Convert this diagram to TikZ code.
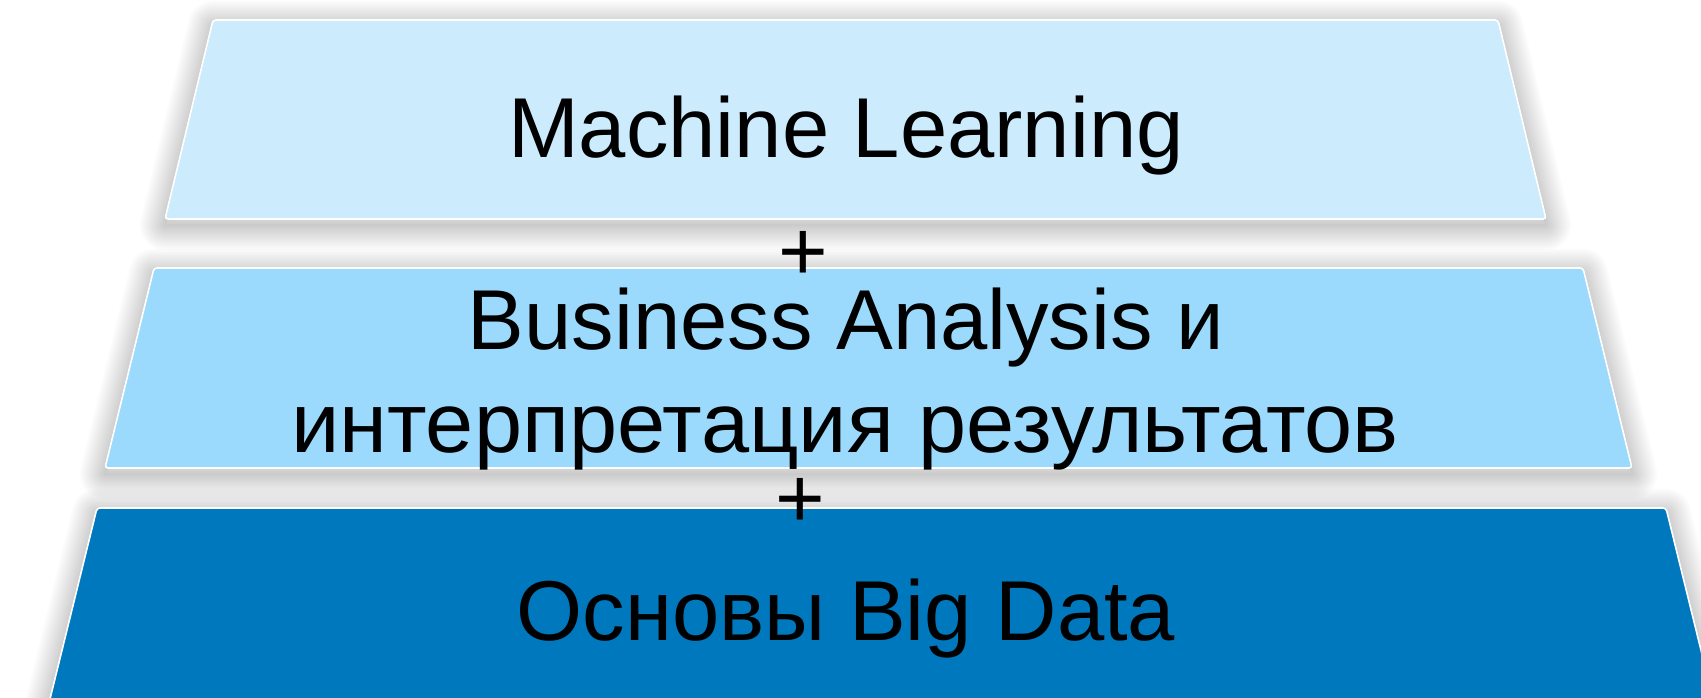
\documentclass[tikz,border=0pt]{standalone}
\usepackage{fontspec}
\setmainfont{Liberation Sans}
\definecolor{tierTop}{HTML}{CCEBFC}
\definecolor{tierMid}{HTML}{9BDAFC}
\definecolor{tierBase}{HTML}{0078BE}

% soft drop shadow: stacked, widening translucent outlines of the shape
\newcommand\tiershadow[1]{%
  \foreach \w in {2,6,...,50}{%
    \draw[black, line width=\w pt, line join=round, draw opacity=0.016]
      [yshift=-6pt] #1 -- cycle;
  }%
}

\tikzset{
  tier/.style={draw=white, line width=1.6pt, rounded corners=3pt},
  label/.style={font=\fontsize{85}{100}\selectfont, text=black,
    inner sep=0pt, anchor=base},
}

\begin{document}
\begin{tikzpicture}[x=1pt, y=-1pt]
\useasboundingbox (0,0) rectangle (1701,698);
\clip (0,0) rectangle (1701,698);
\fill[white] (0,0) rectangle (1701,698);

% shadows
\tiershadow{(213,20) -- (1498,20) -- (1546,219) -- (165,219)}
\tiershadow{(154,268) -- (1583,268) -- (1632,468) -- (105,468)}
\tiershadow{(97,508) -- (1666,508) -- (1728,760) -- (35,760)}

% pyramid tiers
\path[tier, fill=tierTop]  (213,20) -- (1498,20) -- (1546,219) -- (165,219) -- cycle;
\path[tier, fill=tierMid]  (154,268) -- (1583,268) -- (1632,468) -- (105,468) -- cycle;
\path[tier, fill=tierBase] (97,508) -- (1666,508) -- (1728,760) -- (35,760) -- cycle;

% labels
\node[label] (ml)    at (846,158) {Machine Learning};
\node[label] (plusA) at (803,280) {+};
\node[label] (ba1)   at (846,349) {Business Analysis и};
\node[label] (ba2)   at (845,452) {\scalebox{1.018}[1]{интерпретация результатов}};
\node[label] (plusB) at (800,527) {+};
\node[label] (bd)    at (846,640) {Основы Big Data};
\end{tikzpicture}
\end{document}
